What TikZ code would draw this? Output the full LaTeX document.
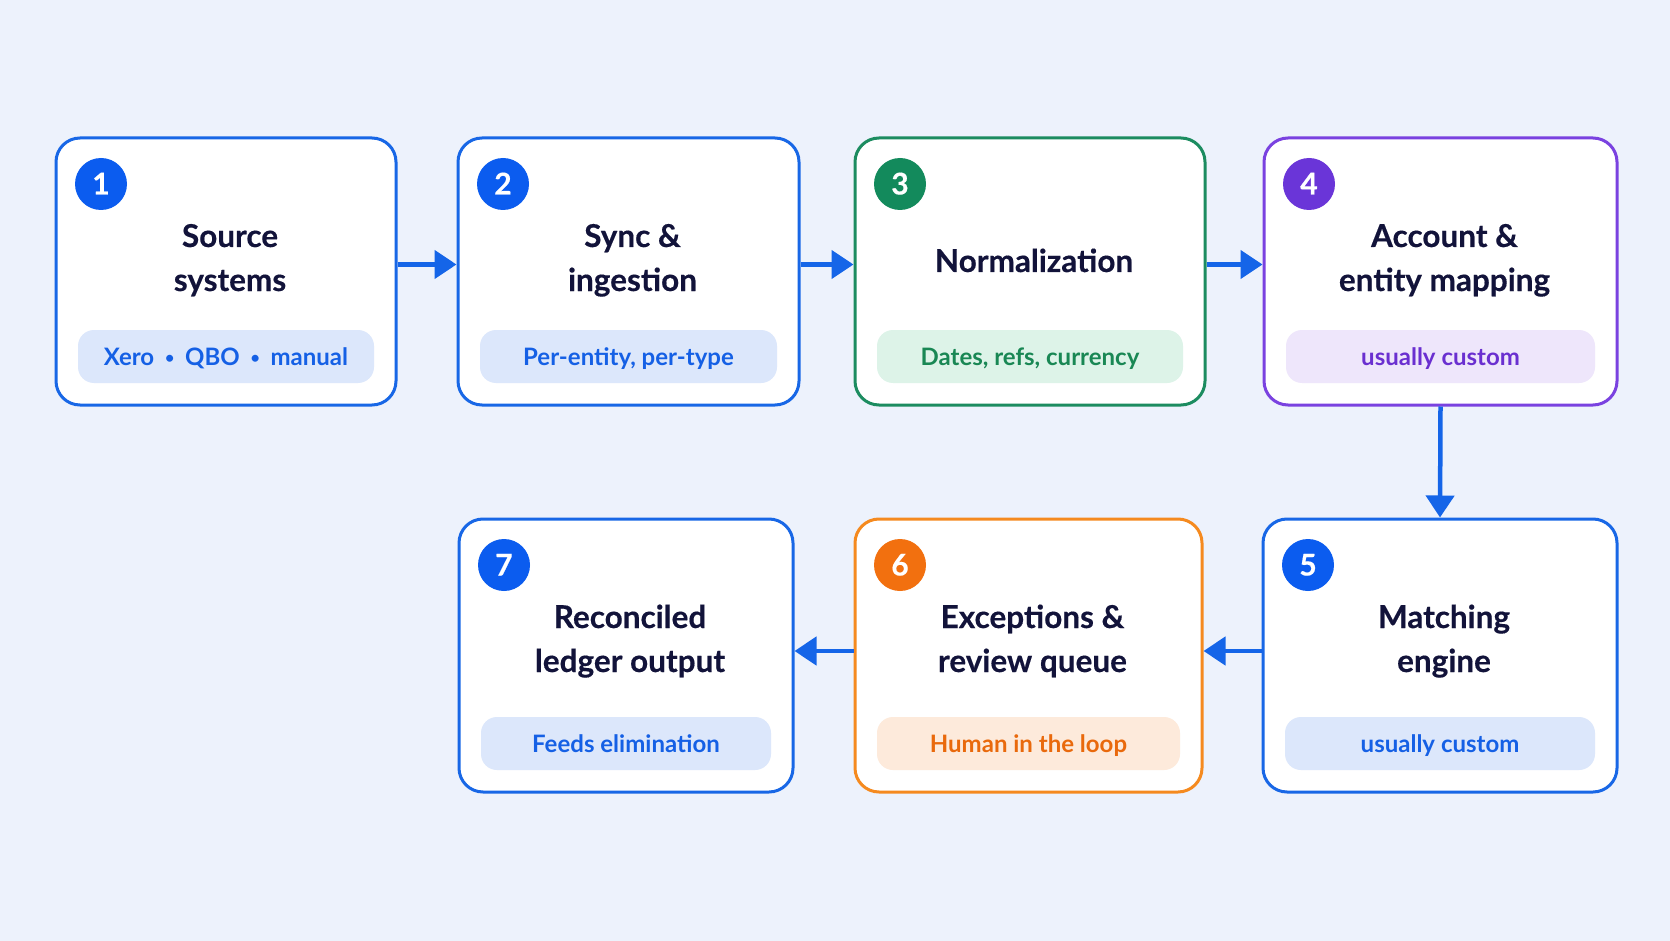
\documentclass[tikz,border=0pt]{standalone}
\usepackage{fontspec}
\setmainfont{Lato}
\newfontfamily\ttlfont{Lato}[FakeBold=0.4]
\usetikzlibrary{arrows.meta}
\definecolor{bg}{HTML}{EDF2FC}
\definecolor{ink}{HTML}{12133A}
\definecolor{arrowblue}{HTML}{1565E8}
\definecolor{bluemain}{HTML}{1867E6}
\definecolor{bluebadge}{HTML}{0B5CEF}
\definecolor{bluepill}{HTML}{DCE7FB}
\definecolor{bluetext}{HTML}{1560E5}
\definecolor{greenmain}{HTML}{1C8C60}
\definecolor{greenbadge}{HTML}{138A5C}
\definecolor{greenpill}{HTML}{DDF3E8}
\definecolor{greentext}{HTML}{198754}
\definecolor{purplemain}{HTML}{7A42E0}
\definecolor{purplebadge}{HTML}{6A35D8}
\definecolor{purplepill}{HTML}{EEE6FB}
\definecolor{purpletext}{HTML}{6A2FD0}
\definecolor{orangemain}{HTML}{F58A1F}
\definecolor{orangebadge}{HTML}{F2700F}
\definecolor{orangepill}{HTML}{FDEADB}
\definecolor{orangetext}{HTML}{E9690C}
\tikzset{
  stepframe/.style={draw, line width=3pt, rounded corners=24pt, fill=white, inner sep=0pt},
  badge/.style={circle, minimum size=52pt, inner sep=0pt, text=white, text height=21pt, text depth=0pt,
    font=\fontsize{30}{30}\selectfont\ttlfont\bfseries},
  ttl/.style={align=center, text=ink, anchor=base, inner sep=0pt, font=\fontsize{31.5}{44}\selectfont\ttlfont\bfseries},
  pill/.style={rounded corners=16pt, minimum height=53pt, inner sep=0pt, text height=17pt, text depth=0pt,
    font=\fontsize{24}{24}\selectfont\bfseries},
  arr/.style={draw=arrowblue, line width=4.5pt, -{Triangle[length=22pt,width=28pt]}}
}
\newcommand\bul{\hspace{0.45em}\raisebox{1.5pt}{\fontsize{16}{16}\selectfont\textbullet}\hspace{0.45em}}
\def\boxh{267}
% name, left, top, right, scheme, number, title, pill, last-baseline offset; height in \boxh
\newcommand\mkstep[9]{%
  \pgfmathsetmacro\cx{(#2+#4)/2}%
  \pgfmathsetmacro\cy{#3+\boxh/2}%
  \pgfmathsetmacro\py{#3+\boxh-48.5}%
  \node[stepframe, draw=#5main, minimum width={#4-#2}, minimum height=\boxh pt] (#1) at (\cx, \cy) {};
  \node[badge, fill=#5badge] (#1n) at (#2+45, #3+46) {#6};
  \node[ttl] (#1t) at (\cx+4, #3+#9) {#7};
  \node[pill, fill=#5pill, text=#5text, minimum width={#4-#2-44}] (#1p) at (\cx, \py) {#8};
}
\begin{document}
\begin{tikzpicture}[x=1pt,y=-1pt]
\fill[bg] (0,0) rectangle (1670,941);
\useasboundingbox (0,0) rectangle (1670,941);
\mkstep{b1}{56}{138}{396}{blue}{1}{Source\\systems}{Xero\bul QBO\bul manual}{153}
\mkstep{b2}{458}{138}{799}{blue}{2}{Sync \&\\ingestion}{Per-entity, per-type}{153}
\mkstep{b3}{855}{138}{1205}{green}{3}{Normalization}{Dates, refs, currency}{134}
\mkstep{b4}{1264}{138}{1617}{purple}{4}{Account \&\\entity mapping}{usually custom}{153}
\def\boxh{273}
\mkstep{b5}{1263}{519}{1617}{blue}{5}{Matching\\engine}{usually custom}{153}
\mkstep{b6}{855}{519}{1202}{orange}{6}{Exceptions \&\\review queue}{Human in the loop}{153}
\mkstep{b7}{459}{519}{793}{blue}{7}{Reconciled\\ledger output}{Feeds elimination}{153}
\draw[arr] ([yshift=7pt]b1.east) -- ([yshift=7pt]b2.west);
\draw[arr] ([yshift=7pt]b2.east) -- ([yshift=7pt]b3.west);
\draw[arr] ([yshift=7pt]b3.east) -- ([yshift=7pt]b4.west);
\draw[arr] (b4.south) -- (b5.north);
\draw[arr] ([yshift=4.5pt]b5.west) -- ([yshift=4.5pt]b6.east);
\draw[arr] ([yshift=4.5pt]b6.west) -- ([yshift=4.5pt]b7.east);
\end{tikzpicture}
\end{document}
